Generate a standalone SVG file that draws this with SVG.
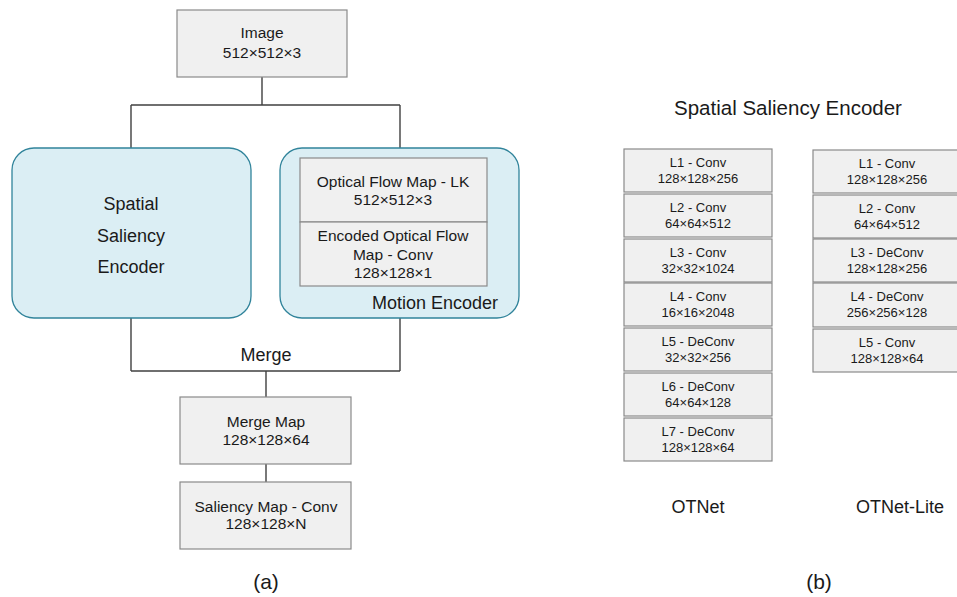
<svg xmlns="http://www.w3.org/2000/svg" width="957" height="597" viewBox="0 0 957 597">
<style>
text{font-family:"Liberation Sans",Arial,sans-serif;fill:#1a1a1a;text-anchor:middle}
.box{fill:#f0f0f0;stroke:#8a8a8a;stroke-width:1.2}
.enc{fill:#dbeef4;stroke:#31849b;stroke-width:1.3}
.conn{fill:none;stroke:#404040;stroke-width:1.4}
.t15{font-size:15.5px}
.t13{font-size:13px}
.t18{font-size:18px}
.lab{font-size:21px}
</style>
<rect width="957" height="597" fill="#ffffff"/>
<g id="connectors">
<path class="conn" d="M262,77 V105 M131,105 H400 M131,105 V148 M400,105 V148"/>
<path class="conn" d="M131,318 V371 M400,318 V371 M131,371 H400 M266,371 V397"/>
<path class="conn" d="M266,464 V482"/>
</g>
<g id="image">
<rect class="box" x="177" y="10" width="170" height="67"/>
<text class="t15" x="262" y="38">Image</text>
<text class="t15" x="262" y="58">512×512×3</text>
</g>
<g id="spatial-encoder">
<rect class="enc" x="12" y="148" width="239" height="170" rx="22"/>
<text class="t18" x="131" y="210">Spatial</text>
<text class="t18" x="131" y="242">Saliency</text>
<text class="t18" x="131" y="273">Encoder</text>
</g>
<g id="motion-encoder">
<rect class="enc" x="280" y="148" width="239" height="170" rx="22"/>
<text class="t18" x="498" y="309" style="text-anchor:end">Motion Encoder</text>
</g>
<g id="optical-flow">
<rect class="box" x="300" y="158" width="187" height="64"/>
<text class="t15" x="393" y="187">Optical Flow Map - LK</text>
<text class="t15" x="393" y="205">512×512×3</text>
</g>
<g id="encoded-optical-flow">
<rect class="box" x="300" y="222" width="187" height="64"/>
<text class="t15" x="393" y="241">Encoded Optical Flow</text>
<text class="t15" x="393" y="260">Map - Conv</text>
<text class="t15" x="393" y="278">128×128×1</text>
</g>
<g id="merge">
<text class="t18" x="266" y="361">Merge</text>
</g>
<g id="merge-map">
<rect class="box" x="180" y="397" width="171" height="67"/>
<text class="t15" x="266" y="427">Merge Map</text>
<text class="t15" x="266" y="445">128×128×64</text>
</g>
<g id="saliency-map">
<rect class="box" x="180" y="482" width="171" height="67"/>
<text class="t15" x="266" y="512">Saliency Map - Conv</text>
<text class="t15" x="266" y="529">128×128×N</text>
</g>
<g id="label-a"><text class="lab" x="266" y="589">(a)</text></g>
<g id="title-b"><text x="788" y="115" style="font-size:20.5px">Spatial Saliency Encoder</text></g>
<g id="otnet">
<rect class="box" x="624" y="149" width="148" height="43"/>
<text class="t13" x="698" y="167">L1 - Conv</text><text class="t13" x="698" y="183">128×128×256</text>
<rect class="box" x="624" y="194" width="148" height="43"/>
<text class="t13" x="698" y="212">L2 - Conv</text><text class="t13" x="698" y="228">64×64×512</text>
<rect class="box" x="624" y="239" width="148" height="43"/>
<text class="t13" x="698" y="257">L3 - Conv</text><text class="t13" x="698" y="273">32×32×1024</text>
<rect class="box" x="624" y="283" width="148" height="43"/>
<text class="t13" x="698" y="301">L4 - Conv</text><text class="t13" x="698" y="317">16×16×2048</text>
<rect class="box" x="624" y="328" width="148" height="43"/>
<text class="t13" x="698" y="346">L5 - DeConv</text><text class="t13" x="698" y="362">32×32×256</text>
<rect class="box" x="624" y="373" width="148" height="43"/>
<text class="t13" x="698" y="391">L6 - DeConv</text><text class="t13" x="698" y="407">64×64×128</text>
<rect class="box" x="624" y="418" width="148" height="43"/>
<text class="t13" x="698" y="436">L7 - DeConv</text><text class="t13" x="698" y="452">128×128×64</text>
<text class="t18" x="698" y="513">OTNet</text>
</g>
<g id="otnet-lite">
<rect class="box" x="813" y="150" width="148" height="43"/>
<text class="t13" x="887" y="168">L1 - Conv</text><text class="t13" x="887" y="184">128×128×256</text>
<rect class="box" x="813" y="195" width="148" height="43"/>
<text class="t13" x="887" y="213">L2 - Conv</text><text class="t13" x="887" y="229">64×64×512</text>
<rect class="box" x="813" y="239" width="148" height="43"/>
<text class="t13" x="887" y="257">L3 - DeConv</text><text class="t13" x="887" y="273">128×128×256</text>
<rect class="box" x="813" y="283" width="148" height="44"/>
<text class="t13" x="887" y="301">L4 - DeConv</text><text class="t13" x="887" y="317">256×256×128</text>
<rect class="box" x="813" y="329" width="148" height="43"/>
<text class="t13" x="887" y="347">L5 - Conv</text><text class="t13" x="887" y="363">128×128×64</text>
<text class="t18" x="900" y="513">OTNet-Lite</text>
</g>
<g id="label-b"><text class="lab" x="819" y="589">(b)</text></g>
</svg>
